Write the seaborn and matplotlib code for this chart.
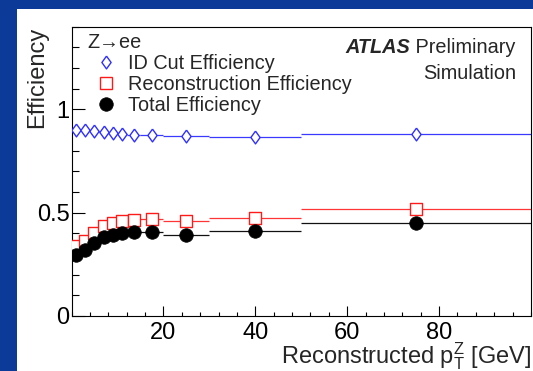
import matplotlib
matplotlib.use("Agg")
import numpy as np
import pandas as pd
import matplotlib.pyplot as plt
from matplotlib.patches import Rectangle
from matplotlib.lines import Line2D
from matplotlib.ticker import MultipleLocator, FixedLocator
import seaborn as sns

# pT bins (GeV) and per-bin efficiencies
bin_edges = [0, 2, 4, 6, 8, 10, 12, 15, 20, 30, 50, 100]
id_cut_eff = [0.900, 0.900, 0.896, 0.890, 0.884, 0.879, 0.874, 0.874, 0.870, 0.868, 0.880]
reco_eff = [0.338, 0.362, 0.403, 0.435, 0.448, 0.459, 0.464, 0.471, 0.459, 0.476, 0.516]
total_eff = [0.297, 0.321, 0.354, 0.383, 0.394, 0.403, 0.407, 0.407, 0.394, 0.411, 0.451]

series_names = ["ID Cut Efficiency", "Reconstruction Efficiency", "Total Efficiency"]
x_ticks = [20, 40, 60, 80]
y_ticks = [0, 0.5, 1]
y_tick_labels = ["0", "0.5", "1"]

sns.set_style("ticks")
plt.rcParams["font.family"] = ["Liberation Sans", "DejaVu Sans"]
plt.rcParams["mathtext.fontset"] = "custom"
plt.rcParams["mathtext.rm"] = "Liberation Sans"
plt.rcParams["mathtext.it"] = "Liberation Sans:italic"

edges = np.asarray(bin_edges, dtype=float)
lo, hi = edges[:-1], edges[1:]
centers = 0.5 * (lo + hi)

frames = []
for name, vals in zip(series_names, [id_cut_eff, reco_eff, total_eff]):
    frames.append(pd.DataFrame({"pt": centers, "lo": lo, "hi": hi,
                                "eff": vals, "series": name}))
df = pd.concat(frames, ignore_index=True)

# open diamond like the ROOT style marker
diamond = [(0, 1), (0.72, 0), (0, -1), (-0.72, 0), (0, 1)]

styles = {
    "ID Cut Efficiency": dict(line="#3a3aff", edge="#2f2fff", face="white",
                              marker=diamond, s=85, lw=1.0),
    "Reconstruction Efficiency": dict(line="#ff3535", edge="#ff1a1a", face="white",
                                      marker="s", s=72, lw=1.0),
    "Total Efficiency": dict(line="#111111", edge="black", face="black",
                             marker="o", s=95, lw=0.5),
}

fig = plt.figure(figsize=(5.33, 3.71), dpi=100)
fig.patch.set_facecolor("#0b3a98")
fig.patches.append(Rectangle((17 / 533, 0), 1 - 17 / 533, 1 - 9 / 371,
                             transform=fig.transFigure, facecolor="white",
                             edgecolor="none", zorder=-5))
ax = fig.add_axes([71.5 / 533, 1 - 316 / 371, 459.5 / 533, 289.3 / 371])
ax.set_facecolor("white")

for i, name in enumerate(series_names):
    st = styles[name]
    sub = df[df["series"] == name]
    ax.hlines(sub["eff"], sub["lo"], sub["hi"], colors=st["line"],
              linewidth=0.9, zorder=2 + 2 * i)
    sns.scatterplot(data=sub, x="pt", y="eff", ax=ax, marker=st["marker"],
                    s=st["s"], color=st["face"], edgecolor=st["edge"],
                    linewidth=st["lw"], zorder=3 + 2 * i, legend=False)

ax.set_xlim(0, 100)
ax.set_ylim(0, 1.4)
ax.xaxis.set_major_locator(FixedLocator(x_ticks))
ax.xaxis.set_minor_locator(MultipleLocator(4))
ax.set_yticks(y_ticks)
ax.set_yticklabels(y_tick_labels)
ax.yaxis.set_minor_locator(MultipleLocator(0.1))

ax.tick_params(axis="both", which="both", direction="in", colors="black",
               labelsize=17, width=0.8)
ax.tick_params(axis="x", which="major", length=7, pad=4)
ax.tick_params(axis="x", which="minor", length=3)
ax.tick_params(axis="y", which="major", length=9.5, pad=1.5)
ax.tick_params(axis="y", which="minor", length=4.7)
for sp in ax.spines.values():
    sp.set_visible(True)
    sp.set_linewidth(0.8)
    sp.set_color("black")

ax.set_xlabel(r"Reconstructed p$_{\mathrm{T}}^{\mathrm{Z}}$ [GeV]", fontsize=17,
              loc="right")
ax.xaxis.set_label_coords(1.0, -0.085)
ax.set_ylabel("Efficiency", fontsize=17, loc="top")
ax.yaxis.set_label_coords(-0.051, 1.0)

# legend
handles = []
for name in series_names:
    st = styles[name]
    handles.append(Line2D([], [], linestyle="none", marker=st["marker"],
                          markersize=np.sqrt(st["s"]),
                          markerfacecolor=st["face"] if name == "Total Efficiency" else "none",
                          markeredgecolor=st["edge"], markeredgewidth=st["lw"]))
ax.legend(handles, series_names, loc="upper left", bbox_to_anchor=(0.053, 0.907),
          frameon=False, fontsize=14.3, handlelength=1.0, handletextpad=0.6,
          labelspacing=0.11, borderpad=0, borderaxespad=0)
ax.text(0.034, 0.947, "Z\u2192ee", transform=ax.transAxes, fontsize=14.3,
        ha="left", va="center")

prelim = ax.text(0.966, 0.927, " Preliminary", transform=ax.transAxes,
                 fontsize=14.3, ha="right", va="center")
ax.annotate("ATLAS", xy=(0, 0.5), xycoords=prelim, fontsize=14.3,
            fontweight="bold", fontstyle="italic", ha="right", va="center")
ax.text(0.968, 0.839, "Simulation", transform=ax.transAxes, fontsize=14.3,
        ha="right", va="center")

fig.savefig("out.png", dpi=100, facecolor=fig.get_facecolor())
